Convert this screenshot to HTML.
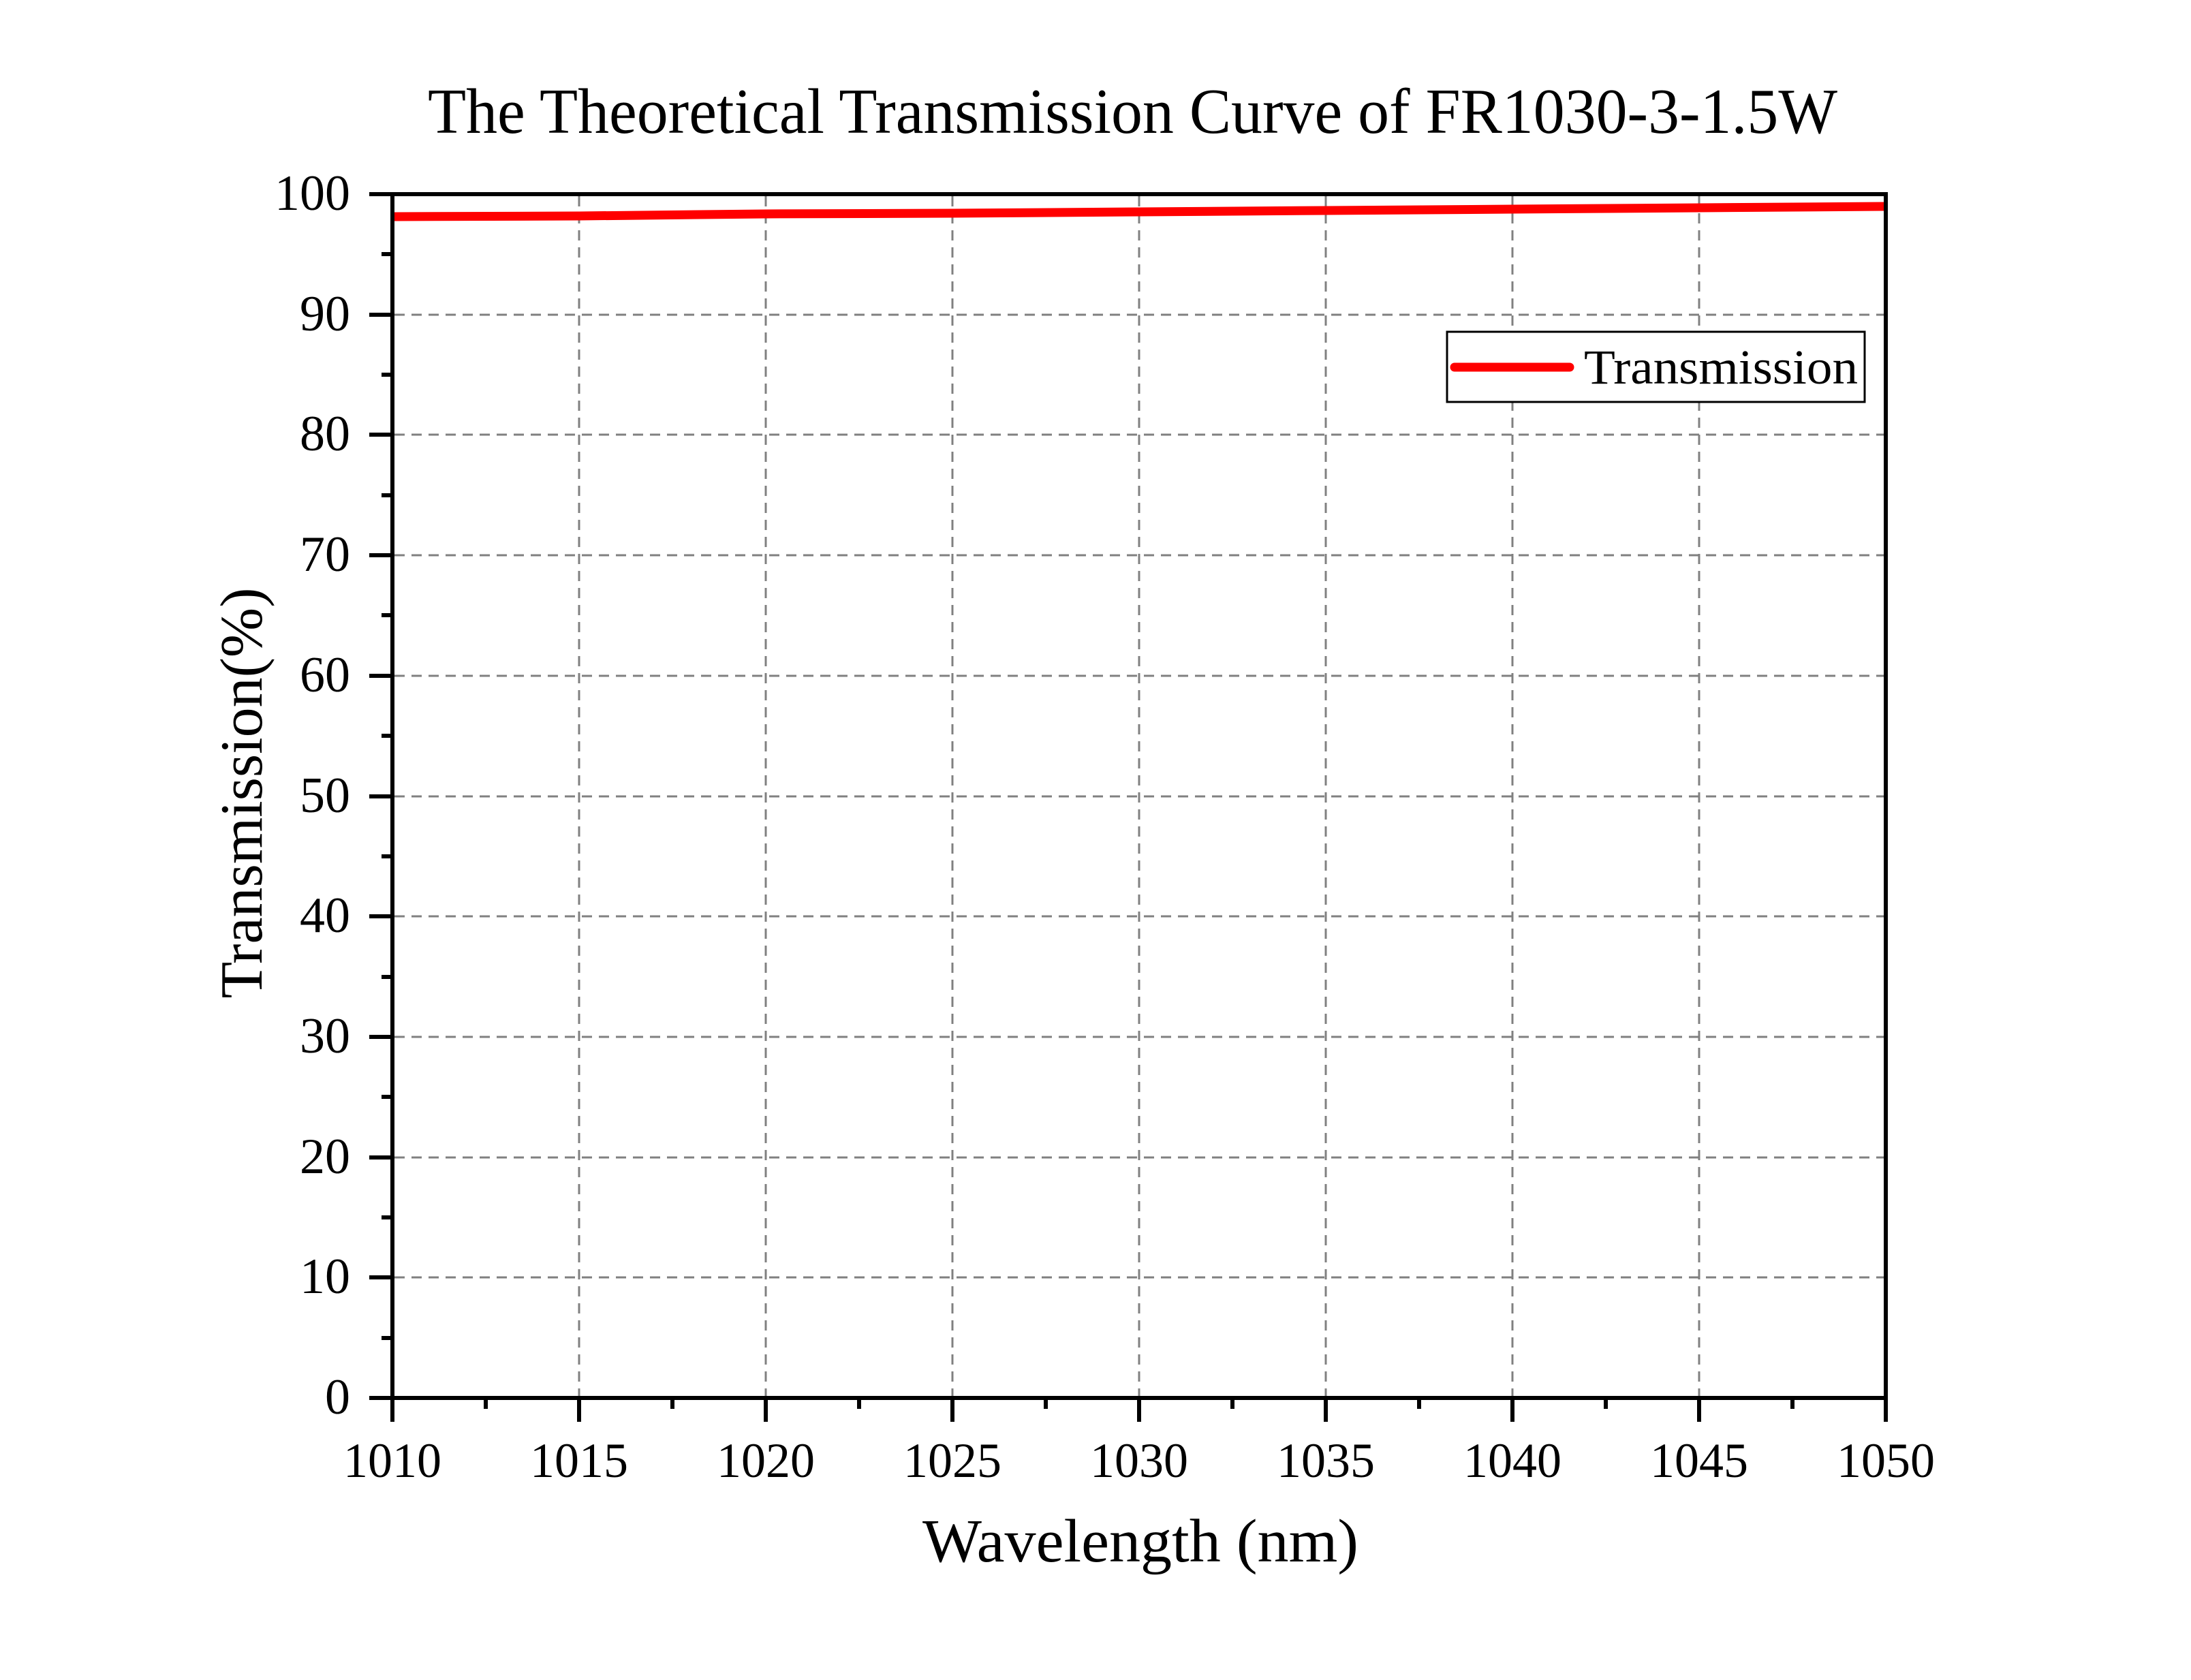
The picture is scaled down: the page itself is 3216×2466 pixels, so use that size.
<!DOCTYPE html>
<html><head><meta charset="utf-8"><style>html,body{margin:0;padding:0;background:#fff}</style></head>
<body>
<svg width="3216" height="2461" viewBox="0 0 3216 2461" xmlns="http://www.w3.org/2000/svg" font-family="'Liberation Serif', serif">
<rect width="3216" height="2461" fill="#fff"/>
<g stroke="#808080" stroke-width="3" stroke-dasharray="15,10">
<line x1="850" y1="288" x2="850" y2="2050"/>
<line x1="1124" y1="288" x2="1124" y2="2050"/>
<line x1="1398" y1="288" x2="1398" y2="2050"/>
<line x1="1672" y1="288" x2="1672" y2="2050"/>
<line x1="1946" y1="288" x2="1946" y2="2050"/>
<line x1="2220" y1="288" x2="2220" y2="2050"/>
<line x1="2494" y1="288" x2="2494" y2="2050"/>
<line x1="579" y1="462" x2="2765" y2="462"/>
<line x1="579" y1="638" x2="2765" y2="638"/>
<line x1="579" y1="815" x2="2765" y2="815"/>
<line x1="579" y1="992" x2="2765" y2="992"/>
<line x1="579" y1="1169" x2="2765" y2="1169"/>
<line x1="579" y1="1345" x2="2765" y2="1345"/>
<line x1="579" y1="1522" x2="2765" y2="1522"/>
<line x1="579" y1="1699" x2="2765" y2="1699"/>
<line x1="579" y1="1875" x2="2765" y2="1875"/>
</g>
<polyline points="579,318 850,317 1124,314 1398,313 1672,311 1946,309 2220,307 2494,305 2765,303" fill="none" stroke="#ff0000" stroke-width="13"/>
<rect x="576" y="285" width="2192" height="1767" fill="none" stroke="#000" stroke-width="6"/>
<g stroke="#000" stroke-width="6">
<line x1="542" y1="285" x2="576" y2="285"/><line x1="542" y1="462" x2="576" y2="462"/><line x1="542" y1="638" x2="576" y2="638"/><line x1="542" y1="815" x2="576" y2="815"/><line x1="542" y1="992" x2="576" y2="992"/><line x1="542" y1="1169" x2="576" y2="1169"/><line x1="542" y1="1345" x2="576" y2="1345"/><line x1="542" y1="1522" x2="576" y2="1522"/><line x1="542" y1="1699" x2="576" y2="1699"/><line x1="542" y1="1875" x2="576" y2="1875"/><line x1="542" y1="2052" x2="576" y2="2052"/>
<line x1="560" y1="373" x2="576" y2="373"/><line x1="560" y1="550" x2="576" y2="550"/><line x1="560" y1="727" x2="576" y2="727"/><line x1="560" y1="903" x2="576" y2="903"/><line x1="560" y1="1080" x2="576" y2="1080"/><line x1="560" y1="1257" x2="576" y2="1257"/><line x1="560" y1="1434" x2="576" y2="1434"/><line x1="560" y1="1610" x2="576" y2="1610"/><line x1="560" y1="1787" x2="576" y2="1787"/><line x1="560" y1="1964" x2="576" y2="1964"/>
<line x1="576" y1="2052" x2="576" y2="2087"/><line x1="850" y1="2052" x2="850" y2="2087"/><line x1="1124" y1="2052" x2="1124" y2="2087"/><line x1="1398" y1="2052" x2="1398" y2="2087"/><line x1="1672" y1="2052" x2="1672" y2="2087"/><line x1="1946" y1="2052" x2="1946" y2="2087"/><line x1="2220" y1="2052" x2="2220" y2="2087"/><line x1="2494" y1="2052" x2="2494" y2="2087"/><line x1="2768" y1="2052" x2="2768" y2="2087"/>
<line x1="713" y1="2052" x2="713" y2="2068"/><line x1="987" y1="2052" x2="987" y2="2068"/><line x1="1261" y1="2052" x2="1261" y2="2068"/><line x1="1535" y1="2052" x2="1535" y2="2068"/><line x1="1809" y1="2052" x2="1809" y2="2068"/><line x1="2083" y1="2052" x2="2083" y2="2068"/><line x1="2357" y1="2052" x2="2357" y2="2068"/><line x1="2631" y1="2052" x2="2631" y2="2068"/>
</g>
<g font-size="74" text-anchor="end" fill="#000">
<text x="514" y="308">100</text><text x="514" y="485">90</text><text x="514" y="661">80</text><text x="514" y="838">70</text><text x="514" y="1015">60</text><text x="514" y="1192">50</text><text x="514" y="1368">40</text><text x="514" y="1545">30</text><text x="514" y="1722">20</text><text x="514" y="1898">10</text><text x="514" y="2075">0</text>
</g>
<g font-size="72" text-anchor="middle" fill="#000">
<text x="576" y="2168">1010</text><text x="850" y="2168">1015</text><text x="1124" y="2168">1020</text><text x="1398" y="2168">1025</text><text x="1672" y="2168">1030</text><text x="1946" y="2168">1035</text><text x="2220" y="2168">1040</text><text x="2494" y="2168">1045</text><text x="2768" y="2168">1050</text>
</g>
<text x="628" y="195" font-size="94" textLength="2069" lengthAdjust="spacingAndGlyphs">The Theoretical Transmission Curve of FR1030-3-1.5W</text>
<text x="1354" y="2292" font-size="90" textLength="640" lengthAdjust="spacingAndGlyphs">Wavelength (nm)</text>
<text transform="translate(384,1164) rotate(-90)" font-size="88" text-anchor="middle">Transmission(%)</text>
<rect x="2124" y="487" width="613" height="103" fill="#fff" stroke="#000" stroke-width="3"/>
<line x1="2135" y1="539" x2="2304" y2="539" stroke="#ff0000" stroke-width="13" stroke-linecap="round"/>
<text x="2325" y="563" font-size="72" textLength="402" lengthAdjust="spacingAndGlyphs">Transmission</text>
</svg>
</body></html>
